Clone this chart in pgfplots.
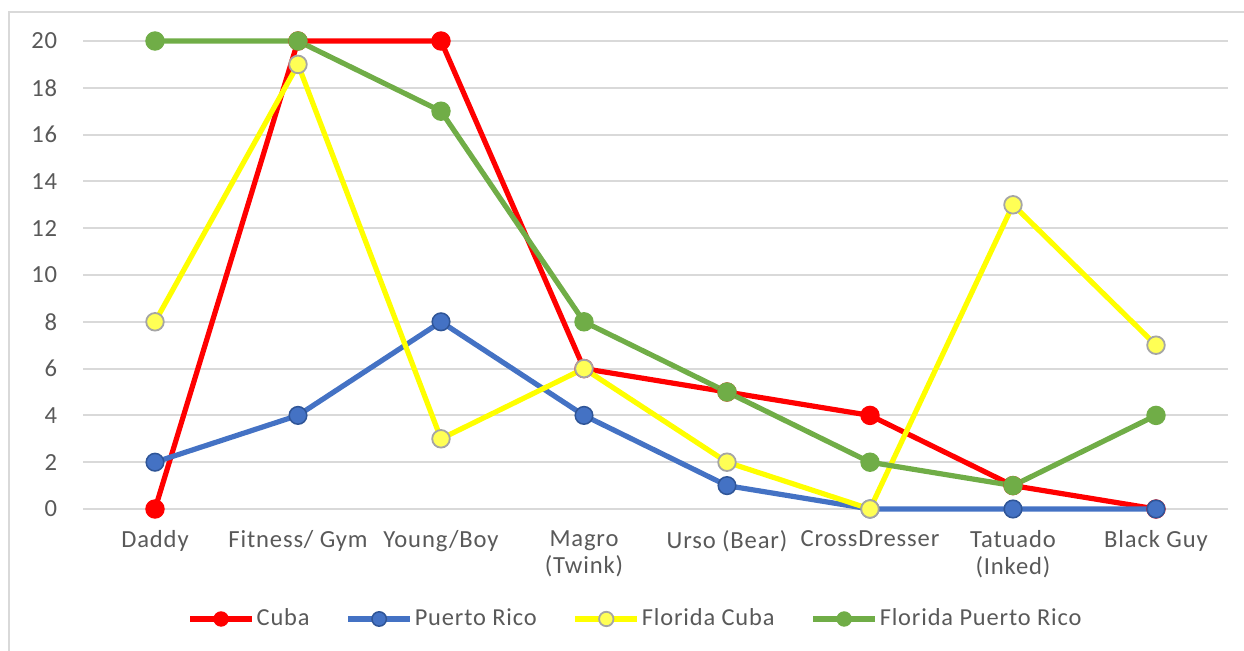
\documentclass[border=0pt]{standalone}
\usepackage{fontspec}
\setmainfont{Carlito}[LetterSpace=3.5]
\usepackage{pgfplots}
\pgfplotsset{compat=1.18}
\definecolor{cred}{HTML}{FF0000}
\definecolor{cblue}{HTML}{4472C4}
\definecolor{cblueedge}{HTML}{2F5597}
\definecolor{cyel}{HTML}{FFFF00}
\definecolor{cyelfill}{HTML}{FFFF55}
\definecolor{cgray}{HTML}{A5A5A5}
\definecolor{cgreen}{HTML}{70AD47}
\definecolor{gridc}{HTML}{D9D9D9}
\definecolor{txt}{HTML}{595959}
\begin{document}
\begin{tikzpicture}
\useasboundingbox (-41.75pt,-70.5pt) rectangle (580.25pt,254.5pt);
\begin{axis}[
  at={(0,0)}, anchor=south west,
  scale only axis, width=572pt, height=234pt,
  xmin=-0.5, xmax=7.5, ymin=0, ymax=20,
  xtick={0,...,7},
  xticklabels={Daddy,Fitness/ Gym,Young/Boy,Magro\\(Twink),Urso (Bear),CrossDresser,Tatuado\\(Inked),Black Guy},
  ytick={0,2,...,20},
  ymajorgrids, grid style={gridc, line width=1pt},
  axis line style={draw=none},
  major tick length=0pt,
  /pgf/number format/assume math mode=true,
  ticklabel style={font=\fontsize{12.3}{13.5}\selectfont, text=txt},
  xticklabel style={align=center, anchor=north, inner sep=0pt, yshift=-10.5pt},
  yticklabel style={anchor=east, inner sep=0pt, xshift=-13pt},
  clip=false,
  legend columns=4,
  legend style={at={(0.4825,-0.235)}, anchor=center, draw=none, fill=none,
    font=\fontsize{12.2}{13.5}\selectfont, text=txt,
    /tikz/every even column/.append style={column sep=17pt},
    nodes={inner sep=1pt}},
  legend image code/.code={\draw[#1, mark=none] (0pt,0pt) -- (31pt,0pt);
     \draw[#1, solid, mark size=3.6pt] plot coordinates {(15.5pt,0pt)};},
]
\addplot[cred, line width=2.6pt, mark=*, mark size=4.6pt, mark options={fill=cred, draw=cred, line width=0.5pt}]
  coordinates {(0,0) (1,20) (2,20) (3,6) (4,5) (5,4) (6,1) (7,0)};
\addlegendentry{Cuba}
\addplot[cblue, line width=2.6pt, mark=*, mark size=4.4pt, mark options={fill=cblue, draw=cblueedge, line width=0.75pt}]
  coordinates {(0,2) (1,4) (2,8) (3,4) (4,1) (5,0) (6,0) (7,0)};
\addlegendentry{Puerto Rico}
\addplot[cyel, line width=2.6pt, mark=*, mark size=4.4pt, mark options={fill=cyelfill, draw=cgray, line width=0.9pt}]
  coordinates {(0,8) (1,19) (2,3) (3,6) (4,2) (5,0) (6,13) (7,7)};
\addlegendentry{Florida Cuba}
\addplot[cgreen, line width=2.6pt, mark=*, mark size=4.6pt, mark options={fill=cgreen, draw=cgreen, line width=0.5pt}]
  coordinates {(0,20) (1,20) (2,17) (3,8) (4,5) (5,2) (6,1) (7,4)};
\addlegendentry{Florida Puerto Rico}
\end{axis}
\draw[gridc, line width=0.75pt] (-37.25pt,-120pt) -- (-37.25pt,248.5pt) -- (650pt,248.5pt);
\end{tikzpicture}
\end{document}
